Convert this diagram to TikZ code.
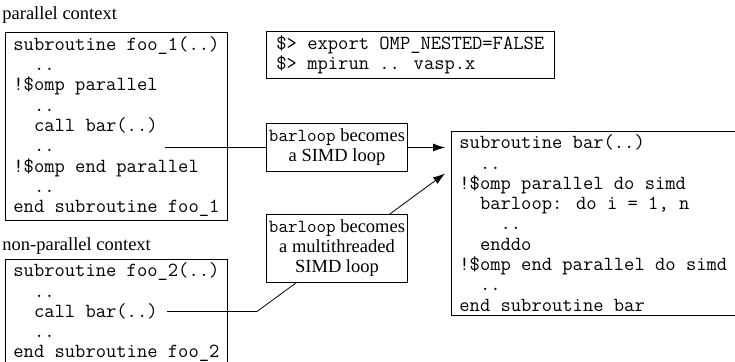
\documentclass[tikz,border=0pt]{standalone}
\usepackage{fontspec}
\setmainfont{Liberation Serif}
\usetikzlibrary{arrows.meta,calc,backgrounds}

\newcommand{\codefont}{\fontsize{20}{20.3}\selectfont\ttfamily}
\newcommand{\notefont}{\fontsize{18.5}{20}\selectfont}

\tikzset{
  codebox/.style={draw,align=left,font=\codefont,
    inner xsep=8pt,inner ysep=4pt,anchor=north west},
  notebox/.style={draw,fill=white,align=center,font=\notefont,
    inner xsep=2.5pt,inner ysep=5.5pt},
  ctxlabel/.style={anchor=base west,font=\notefont,inner sep=0pt},
  link/.style={line width=0.8pt},
}

\begin{document}
\begin{tikzpicture}[x=1pt,y=-1pt,line width=0.8pt,>={Latex[length=12pt,width=8pt]}]
  \useasboundingbox (0,0) rectangle (735,361);

  % caller with parallel region
  \node[ctxlabel] (parlbl) at (2,20) {parallel context};
  \node[codebox] (foo1) at (5,32) {subroutine foo\_1(..)\\
    ~~..\\
    !\$omp parallel\\
    ~~..\\
    ~~call bar(..)\\
    ~~..\\
    !\$omp end parallel\\
    ~~..\\
    end subroutine foo\_1};

  % caller without parallel region
  \node[ctxlabel] (serlbl) at (2,250) {non-parallel context};
  \node[codebox] (foo2) at (5,258.5) {subroutine foo\_2(..)\\
    ~~..\\
    ~~call bar(..)\\
    ~~..\\
    end subroutine foo\_2};

  % environment
  \node[codebox,inner xsep=10pt] (env) at (266,31) {\$> export OMP\_NESTED=FALSE\\
    \$> mpirun .. vasp.x};

  % callee
  \node[codebox] (bar) at (451,130.5) {subroutine bar(..)\\
    ~~..\\
    !\$omp parallel do simd\\
    ~~barloop: do i = 1, n\\
    ~~~~..\\
    ~~enddo\\
    !\$omp end parallel do simd\\
    ~~..\\
    end subroutine bar};

  \node[notebox] (simd) at (337,147.5) {\texttt{barloop} becomes\\a SIMD loop};
  \node[notebox] (mtsimd) at (337,248.5) {\texttt{barloop} becomes\\a multithreaded\\SIMD loop};

  \coordinate (fromA) at (165,147.5);
  \coordinate (tipA) at ($(bar.north west)+(-6,17)$);
  \coordinate (fromB) at (167,311.5);
  \coordinate (kinkB) at (257,311.5);
  \coordinate (tipB) at ($(bar.north west)+(-6,43)$);

  \draw[link] (fromA) -- (simd.west);
  \draw[link,->] (simd.east) -- (tipA);
  \begin{pgfonlayer}{background}
    \draw[link,->] (fromB) -- (kinkB) -- (tipB);
  \end{pgfonlayer}
\end{tikzpicture}
\end{document}
